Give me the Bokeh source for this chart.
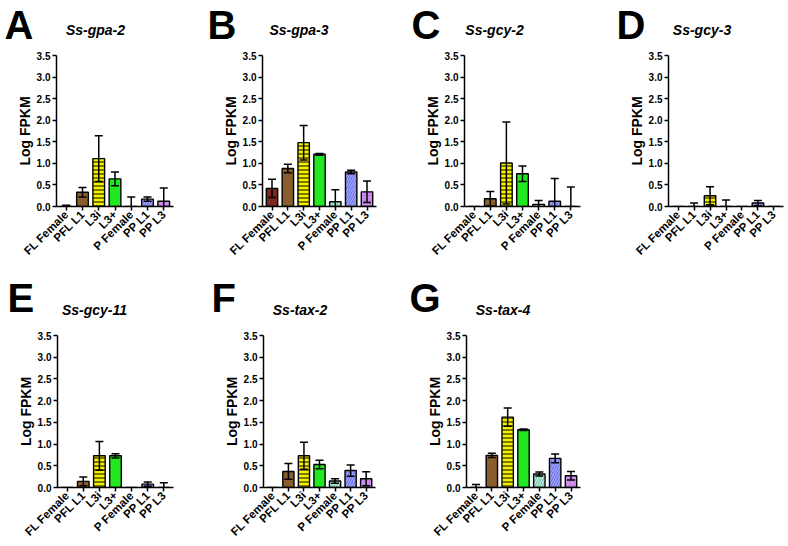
import math
from bokeh.plotting import figure
from bokeh.layouts import row, column
from bokeh.models import Range1d, FixedTicker, ColumnDataSource, NumeralTickFormatter, CanvasTexture
from bokeh.embed import file_html
from bokeh.resources import INLINE
from bokeh.core.properties import value

# ---------------- data ----------------
categories = ["FL Female", "PFL L1", "L3i", "L3+", "P Female", "PP L1", "PP L3"]
fill_colors = ["#d8453c", "#f2a452", "#f4f000", "#22e822", "#c8f0e2", "#7478e8", "#d28cf0"]
hatch_patterns = ["checker", "checker", "horizontal_line", "blank", "right_diagonal_line", "right_diagonal_line", "cross"]
hatch_colors = ["#6e1010", "#2a1800", "#2a2a00", "#000000", "#5cb89c", "#b4b8ff", "#b878e0"]
hatch_scales = [6, 6, 4, 4, 5, 5, 5]
hatch_weights = [1, 1, 1.2, 1, 1, 0.9, 0.6]

letters = ["A", "B", "C", "D", "E", "F", "G"]
genes = ["Ss-gpa-2", "Ss-gpa-3", "Ss-gcy-2", "Ss-gcy-3", "Ss-gcy-11", "Ss-tax-2", "Ss-tax-4"]

gpa2_mean = [0.0, 0.33, 1.11, 0.64, 0.0, 0.17, 0.12]
gpa2_err = [0.03, 0.11, 0.53, 0.16, 0.22, 0.05, 0.31]
gpa3_mean = [0.42, 0.88, 1.48, 1.21, 0.11, 0.80, 0.34]
gpa3_err = [0.21, 0.10, 0.40, 0.02, 0.28, 0.04, 0.25]
gcy2_mean = [0.0, 0.18, 1.01, 0.76, 0.05, 0.12, 0.0]
gcy2_err = [0.0, 0.17, 0.95, 0.18, 0.09, 0.53, 0.45]
gcy3_mean = [0.0, 0.0, 0.25, 0.0, 0.0, 0.08, 0.0]
gcy3_err = [0.0, 0.08, 0.21, 0.15, 0.0, 0.06, 0.0]
gcy11_mean = [0.0, 0.14, 0.73, 0.73, 0.0, 0.077, 0.0]
gcy11_err = [0.0, 0.10, 0.33, 0.05, 0.0, 0.05, 0.11]
tax2_mean = [0.0, 0.37, 0.73, 0.53, 0.15, 0.39, 0.20]
tax2_err = [0.0, 0.18, 0.31, 0.10, 0.05, 0.13, 0.16]
tax4_mean = [0.0, 0.74, 1.62, 1.33, 0.31, 0.67, 0.27]
tax4_err = [0.07, 0.05, 0.21, 0.015, 0.045, 0.10, 0.10]

y_ticks = [0.0, 0.5, 1.0, 1.5, 2.0, 2.5, 3.0, 3.5]
y_label = "Log FPKM"

FONT = "Liberation Sans"
X0, X1 = -0.6, 6.6
Y0, Y1 = 0.0, 3.5
PAGE_W = 788
LETTER_PX, TITLE_PX = 40, 14

checker = CanvasTexture(code="""
const s = scale / 2;
ctx.fillStyle = color;
ctx.fillRect(0, 0, s, s);
ctx.fillRect(s, s, s, s);
""")


def make_header(height, lets, gns, letter_xs, letter_base, title_xs, title_base):
    # one strip across the whole row holding the panel letters and gene titles;
    # the text anchor sits ~0.35 em above the alphabetic baseline
    h = figure(width=PAGE_W, height=height, output_backend="svg", toolbar_location=None,
               x_range=Range1d(0, PAGE_W), y_range=Range1d(0, height),
               x_axis_type=None, y_axis_type=None,
               min_border_left=0, min_border_right=0, min_border_top=0, min_border_bottom=0)
    h.outline_line_color = None
    h.grid.visible = False
    ly = letter_base + 0.35 * LETTER_PX
    ty = title_base + 0.35 * TITLE_PX
    h.text(x=letter_xs, y=[ly] * len(lets), text=lets, text_font=value(FONT),
           text_font_style="bold", text_font_size=f"{LETTER_PX}px", text_color="black",
           text_align="left", text_baseline="alphabetic")
    h.text(x=title_xs, y=[ty] * len(gns), text=gns, text_font=value(FONT),
           text_font_style="bold italic", text_font_size=f"{TITLE_PX}px", text_color="black",
           text_align="center", text_baseline="alphabetic")
    return h


def make_body(means, errs, width, height, left, right, top, bottom):
    p = figure(width=width, height=height, output_backend="svg", toolbar_location=None,
               x_range=Range1d(X0, X1), y_range=Range1d(Y0, Y1),
               min_border_left=left, min_border_right=right,
               min_border_top=top, min_border_bottom=bottom)
    p.outline_line_color = None
    p.grid.visible = False

    xs = list(range(len(categories)))
    src = ColumnDataSource(dict(x=xs, top=means, fill=fill_colors, hp=hatch_patterns,
                                hc=hatch_colors, hs=hatch_scales, hw=hatch_weights))
    p.vbar(x="x", top="top", width=0.72, source=src, fill_color="fill",
           line_color="black", line_width=1.4,
           hatch_pattern="hp", hatch_color="hc", hatch_scale="hs", hatch_weight="hw",
           hatch_extra={"checker": checker})

    ex = [x for x, e in zip(xs, errs) if e > 0]
    lo = [m - e for m, e in zip(means, errs) if e > 0]
    hi = [m + e for m, e in zip(means, errs) if e > 0]
    p.segment(x0=ex, y0=lo, x1=ex, y1=hi, line_color="black", line_width=1.5)
    p.scatter(x=ex + ex, y=hi + lo, marker="dash", size=8, line_color="black", line_width=1.5)

    ax = p.yaxis[0]
    ax.ticker = FixedTicker(ticks=y_ticks)
    ax.formatter = NumeralTickFormatter(format="0.0")
    ax.axis_label = y_label
    ax.axis_label_text_font = FONT
    ax.axis_label_text_font_style = "bold"
    ax.axis_label_text_font_size = "14px"
    ax.axis_label_text_color = "black"
    ax.axis_label_standoff = 1
    ax.major_label_text_font = FONT
    ax.major_label_text_font_style = "bold"
    ax.major_label_text_font_size = "10px"
    ax.major_label_text_color = "black"
    ax.major_label_standoff = 2
    ax.major_tick_out = 4
    ax.major_tick_in = 0
    ax.minor_tick_line_color = None
    ax.axis_line_width = 1.5
    ax.major_tick_line_width = 1.5

    bx = p.xaxis[0]
    bx.ticker = FixedTicker(ticks=xs)
    bx.major_label_overrides = {i: c for i, c in enumerate(categories)}
    bx.major_label_orientation = math.pi / 4
    bx.major_label_text_font = FONT
    bx.major_label_text_font_style = "bold"
    bx.major_label_text_font_size = "11.5px"
    bx.major_label_text_color = "black"
    bx.major_label_standoff = 2
    bx.major_tick_out = 4
    bx.major_tick_in = 0
    bx.minor_tick_line_color = None
    bx.axis_line_width = 1.5
    bx.major_tick_line_width = 1.5
    return p


ROW1, ROW2 = 272, 274
HEAD1, HEAD2 = 47, 55
FRAME1, FRAME2 = 151, 152
TOP = 8
B1 = ROW1 - HEAD1
B2 = ROW2 - HEAD2

head1 = make_header(HEAD1, letters[:4], genes[:4], [4, 207, 411, 616], 9,
                    [95, 298.5, 494, 701.5], 13)
head2 = make_header(HEAD2, letters[4:], genes[4:], [7, 211, 409], 16,
                    [94, 299.5, 502.5], 13)

pA = make_body(gpa2_mean, gpa2_err, 196, B1, 56, 23, TOP, B1 - TOP - FRAME1)
pB = make_body(gpa3_mean, gpa3_err, 196, B1, 66, 16, TOP, B1 - TOP - FRAME1)
pC = make_body(gcy2_mean, gcy2_err, 196, B1, 72, 8, TOP, B1 - TOP - FRAME1)
pD = make_body(gcy3_mean, gcy3_err, 200, B1, 80, 5, TOP, B1 - TOP - FRAME1)
pE = make_body(gcy11_mean, gcy11_err, 196, B2, 57, 23, TOP, B2 - TOP - FRAME2)
pF = make_body(tax2_mean, tax2_err, 196, B2, 67, 17, TOP, B2 - TOP - FRAME2)
pG = make_body(tax4_mean, tax4_err, 196, B2, 74, 8, TOP, B2 - TOP - FRAME2)

layout = column(head1, row(pA, pB, pC, pD), head2, row(pE, pF, pG))
open("out.html", "w").write(file_html(layout, INLINE))
